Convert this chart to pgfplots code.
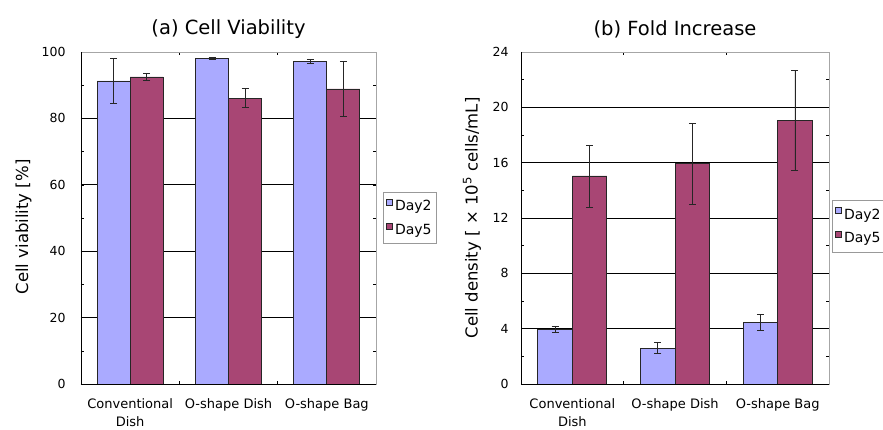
\documentclass[border=0pt]{standalone}
\usepackage{fontspec}
\setmainfont{DejaVu Sans}
\usepackage{pgfplots}
\pgfplotsset{compat=1.18}
\definecolor{dayA}{RGB}{170,170,255}
\definecolor{dayB}{RGB}{168,70,116}
\pgfplotsset{
  mystyle/.style={
    scale only axis,
    ybar=0pt,
    xmin=-0.5, xmax=2.5, ymin=0,
    xtick={0,1,2},
    xticklabels={{Conventional\\Dish},{O-shape Dish},{O-shape Bag}},
    x tick label style={align=center, font=\fontsize{13}{18}\selectfont, yshift=-11pt},
    major x tick style={draw=none},
    minor xtick={0.5,1.5},
    minor tick length=3pt,
    major tick length=3pt,
    tick align=inside,
    tick style={black, line width=0.6pt},
    y tick label style={font=\fontsize{12.5}{14}\selectfont},
    /pgf/number format/assume math mode=true,
    ymajorgrids,
    grid style={black, line width=0.7pt},
    axis line style={gray!70, line width=0.9pt},
    legend image code/.code={\draw[##1, line width=0.6pt] (0pt,1pt) rectangle (6pt,7pt);},
    legend style={draw=gray!80, line width=0.9pt, font=\fontsize{14}{16}\selectfont,
      cells={anchor=west}, row sep=8pt, inner xsep=3pt, inner ysep=6pt},
    every axis plot/.append style={draw=black!85, line width=0.7pt,
      /pgfplots/error bars/y dir=both, /pgfplots/error bars/y explicit,
      /pgfplots/error bars/error bar style={black!85, line width=0.8pt},
      /pgfplots/error bars/error mark options={black!85, line width=0.8pt, mark size=3.5pt, rotate=90}},
    title style={font=\fontsize{19.5}{21}\selectfont, at={(0.5,1)}, anchor=center, yshift=17pt},
    ylabel style={font=\fontsize{16.5}{18}\selectfont, anchor=center},
  }
}
\begin{document}
\begin{tikzpicture}
\path[use as bounding box] (0,0) rectangle (883pt,429pt);
\begin{axis}[mystyle,
  at={(81pt,45pt)}, anchor=south west, width=295pt, height=332pt,
  ymax=100, ytick={0,20,40,60,80,100}, minor ytick={10,30,50,70,90},
  bar width=33pt,
  y tick label style={xshift=-12pt},
  title={(a) Cell Viability},
  ylabel={Cell viability [\%]},
  ylabel style={at={(axis description cs:-0.195,0.473)}},
  legend style={at={(axis description cs:1.0237,0.5)}, anchor=west},
]
\addplot[fill=dayA] coordinates {(0,91.3) +- (0,6.7) (1,98.0) +- (0,0.3) (2,97.2) +- (0,0.65)};
\addplot[fill=dayB] coordinates {(0,92.5) +- (0,1.0) (1,86.1) +- (0,2.9) (2,88.9) +- (0,8.2)};
\legend{Day2,Day5}
\draw[black, line width=0.9pt] (rel axis cs:0,1) -- (rel axis cs:0,0) -- (rel axis cs:1,0);
\end{axis}
\begin{axis}[mystyle,
  at={(521pt,45pt)}, anchor=south west, width=308pt, height=332pt,
  ymax=24, ytick={0,4,8,12,16,20,24}, minor ytick={2,6,10,14,18,22},
  bar width=34.5pt,
  y tick label style={xshift=-9pt},
  title={(b) Fold Increase},
  ylabel={Cell density [ × 10\textsuperscript{5} cells/mL]},
  ylabel style={at={(axis description cs:-0.159,0.5)}},
  legend style={at={(axis description cs:1.0097,0.474)}, anchor=west},
]
\addplot[fill=dayA] coordinates {(0,3.95) +- (0,0.2) (1,2.6) +- (0,0.42) (2,4.45) +- (0,0.59)};
\addplot[fill=dayB] coordinates {(0,15.04) +- (0,2.24) (1,15.93) +- (0,2.92) (2,19.04) +- (0,3.6)};
\legend{Day2,Day5}
\draw[black, line width=0.9pt] (rel axis cs:0,1) -- (rel axis cs:0,0) -- (rel axis cs:1,0);
\end{axis}
\end{tikzpicture}
\end{document}
